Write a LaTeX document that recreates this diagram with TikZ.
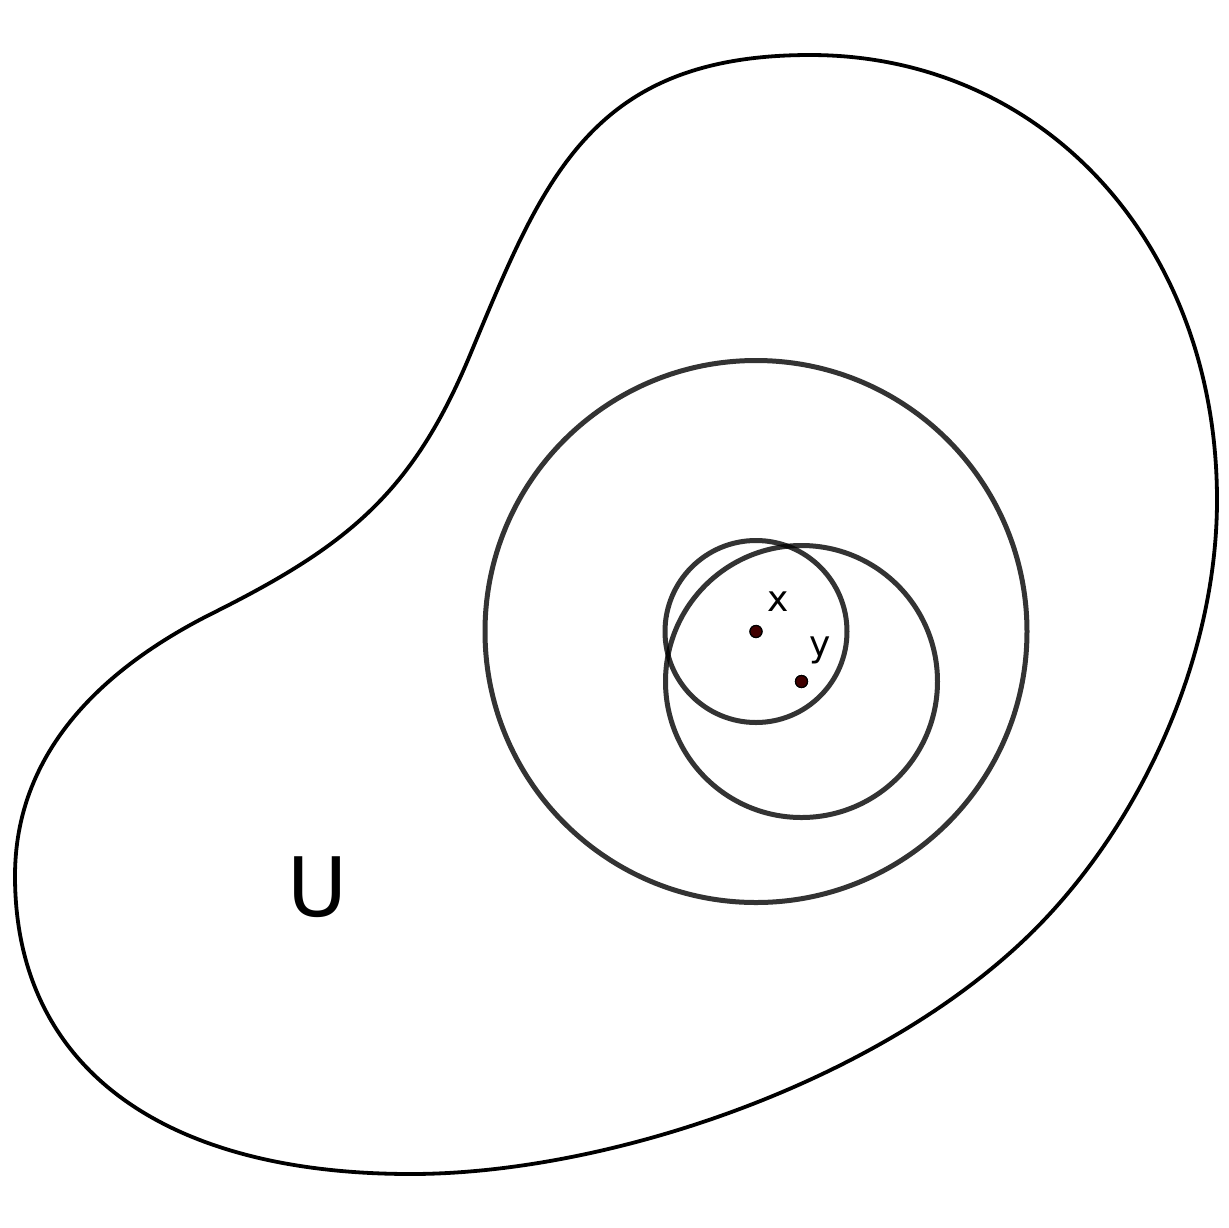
\documentclass[tikz,border=0pt]{standalone}
\usepackage{fontspec}
\setmainfont{DejaVu Sans}
\begin{document}
\begin{tikzpicture}[x=0.5pt,y=-0.5pt,
  blob/.style={draw=black,line width=1.9pt},
  ring/.style={draw=black,draw opacity=0.8,line width=2.5pt},
  pt/.style={circle,fill={rgb,255:red,64;green,0;blue,0},draw=black,line width=0.6pt,inner sep=0pt,minimum size=6pt},
  lab/.style={anchor=base,inner sep=0pt,font=\fontsize{18}{20}\selectfont},
  biglab/.style={anchor=base,inner sep=0pt,font=\fontsize{41}{44}\selectfont}]
\useasboundingbox (0,0) rectangle (1228,1228);
\fill[white] (0,0) rectangle (1228,1228);
% outer region U
\draw[blob] (810,55) .. controls (590,55) and (543.2,179.6) .. (470,355)
 .. controls (412.3,493.5) and (347.1,545.9) .. (213,613)
 .. controls (96.8,671.1) and (15,756) .. (15,876)
 .. controls (15,1066) and (161,1174) .. (411,1174)
 .. controls (611,1174) and (893.9,1078.9) .. (1045,919)
 .. controls (1148,810) and (1217,650) .. (1217,500)
 .. controls (1217,245) and (1045,55) .. (810,55) -- cycle;
% points
\node[pt] (x) at (756,631.5) {};
\node[pt] (y) at (801.5,681.5) {};
% balls
\draw[ring] (x) circle[radius=135.5pt];
\draw[ring] (x) circle[radius=45.5pt];
\draw[ring] (y) circle[radius=68pt];
\node[pt] at (x) {};
\node[pt] at (y) {};
% labels
\node[lab] (xl) at (778,611) {x};
\node[lab] (yl) at (820,656.5) {y};
\node[biglab] (U) at (318,916) {U};
\end{tikzpicture}
\end{document}
